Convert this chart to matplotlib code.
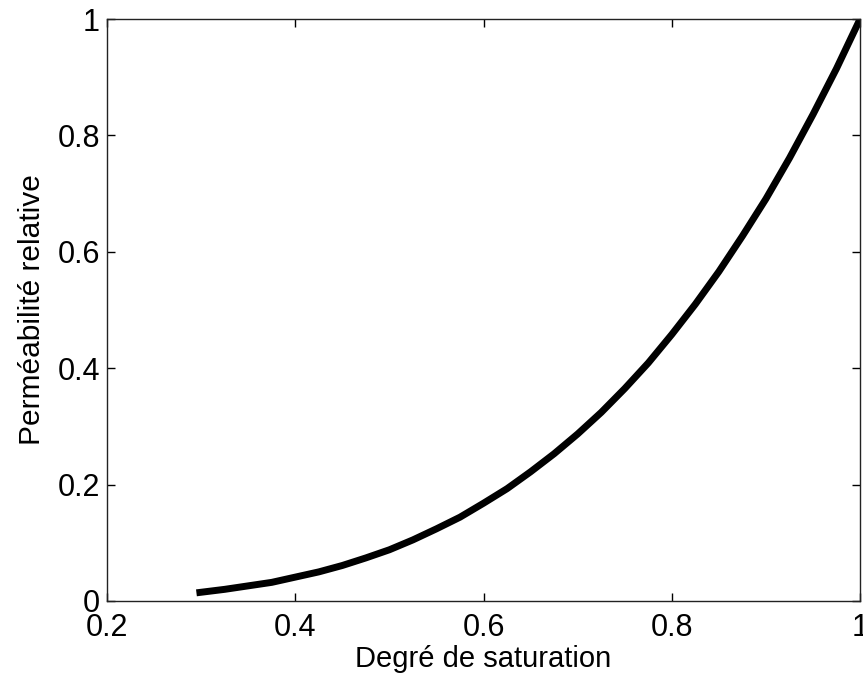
import matplotlib
matplotlib.use("Agg")
import matplotlib.pyplot as plt

# Values
saturation = [0.295, 0.300, 0.325, 0.350, 0.375, 0.400, 0.425, 0.450, 0.475,
              0.500, 0.525, 0.550, 0.575, 0.600, 0.625, 0.650, 0.675, 0.700,
              0.725, 0.750, 0.775, 0.800, 0.825, 0.850, 0.875, 0.900, 0.925,
              0.950, 0.975, 1.000]
permeability = [0.014, 0.015, 0.020, 0.026, 0.032, 0.041, 0.050, 0.061, 0.074,
                0.088, 0.105, 0.124, 0.144, 0.168, 0.193, 0.222, 0.253, 0.287,
                0.324, 0.365, 0.409, 0.458, 0.510, 0.566, 0.627, 0.691, 0.761,
                0.836, 0.915, 1.000]

xticks = [0.2, 0.4, 0.6, 0.8, 1.0]
xticklabels = ["0.2", "0.4", "0.6", "0.8", "1"]
yticks = [0, 0.2, 0.4, 0.6, 0.8, 1.0]
yticklabels = ["0", "0.2", "0.4", "0.6", "0.8", "1"]

plt.rcParams['font.family'] = ['Liberation Sans', 'DejaVu Sans']

fig = plt.figure(figsize=(8.63, 6.79), dpi=100)
ax = fig.add_axes([0.124, 0.1149, 0.8726, 0.8571])
ax.plot(saturation, permeability, color='black', linewidth=5,
        solid_capstyle='butt', solid_joinstyle='round')
ax.set_xlim(0.2, 1.0)
ax.set_ylim(0, 1.0)
ax.set_xticks(xticks)
ax.set_xticklabels(xticklabels)
ax.set_yticks(yticks)
ax.set_yticklabels(yticklabels)
ax.tick_params(direction='in', length=6, width=1, labelsize=22,
               top=True, right=True)
ax.tick_params(axis='x', pad=9)
ax.tick_params(axis='y', pad=5)
for s in ax.spines.values():
    s.set_linewidth(1)
    s.set_color('#222222')
ax.set_xlabel("Degré de saturation", fontsize=21, labelpad=1)
ax.set_ylabel("Perméabilité relative", fontsize=21.5, labelpad=8)

fig.savefig("out.png", dpi=100)
